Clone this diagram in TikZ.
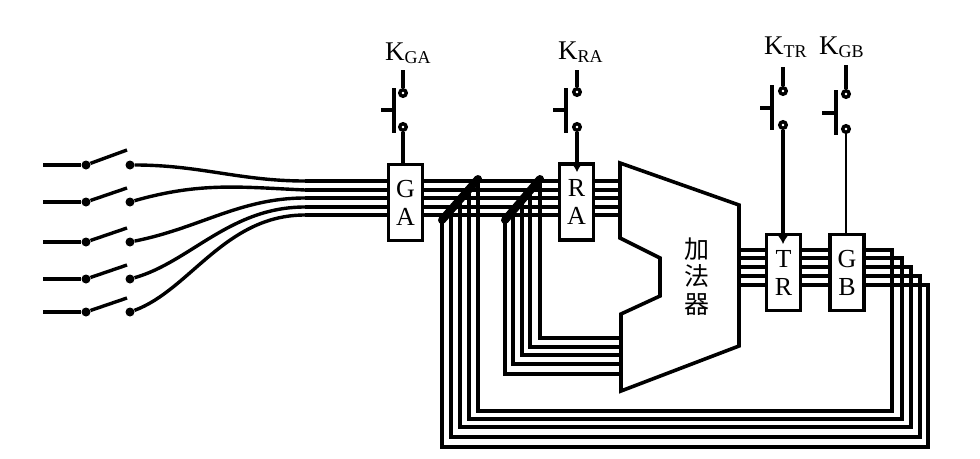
\documentclass[tikz,border=0pt]{standalone}
\usepackage{fontspec}
\setmainfont{Liberation Serif}
\newfontfamily\cjk{Noto Sans CJK SC}
\usetikzlibrary{arrows.meta}
\tikzset{
  wire/.style={line width=3.4pt,line cap=butt,line join=miter},
  thin wire/.style={line width=2.6pt,line cap=round},
  regbox/.style={draw,line width=3.6pt,fill=white,inner sep=0pt,minimum width=34pt,minimum height=76pt,align=center,font=\fontsize{26}{28}\selectfont},
  sdot/.style={circle,fill=black,inner sep=0pt,minimum size=9pt},
  kdot/.style={circle,draw,line width=3.4pt,fill=white,inner sep=0pt,minimum size=6.5pt},
  tap/.style={line width=8pt,line cap=round},
  keylabel/.style={inner sep=0pt,anchor=base west,font=\fontsize{27}{27}\selectfont},
}
\newcommand{\ksub}[1]{\raisebox{-3pt}{\fontsize{18}{18}\selectfont #1}}
\begin{document}
\begin{tikzpicture}[x=1pt,y=-1pt]
\useasboundingbox (0,0) rectangle (980,458);
\fill[white] (0,0) rectangle (980,458);
% registers
\node[regbox] (GA) at (405.5,202.5) {G\\A};
\node[regbox] (RA) at (576.5,202) {R\\A};
\node[regbox] (TR) at (783.5,272.5) {T\\R};
\node[regbox] (GB) at (847,272.5) {G\\B};
% adder
\draw[line width=3.6pt,line join=miter,fill=white] (620,163) coordinate (ADD) -- (739,205) -- (739,346) -- (621,391) -- (621,314) -- (660,296) -- (660,258) -- (620,238) -- cycle;
\node[inner sep=0pt,align=center,font=\cjk\fontsize{25}{27.5}\selectfont] (adder) at (697,276.5) {加\\法\\器};
% input switches
\foreach \n/\y/\ly in {1/165/150,2/202/188,3/242/228,4/279/265,5/312/298}{
  \coordinate (in\n) at (43,\y);
  \node[sdot] (a\n) at (86,\y) {};
  \node[sdot] (b\n) at (130,\y) {};
  \coordinate (lev\n) at (127,\ly);
  \draw[wire] (in\n) -- (a\n);
  \draw[wire] (a\n) -- (lev\n);
}
% wires to GA
\foreach \n/\y in {1/181,2/190,3/198,4/207,5/215}{
  \coordinate (g\n) at (305,\y);
  \coordinate (ga\n) at (GA.west |- 0,\y);
  \coordinate (gb\n) at (GA.east |- 0,\y);
  \coordinate (ra\n) at (RA.west |- 0,\y);
  \coordinate (rb\n) at (RA.east |- 0,\y);
  \coordinate (ad\n) at (620,\y);
  \draw[wire] (g\n) -- (ga\n);
  \draw[wire] (gb\n) -- (ra\n);
  \draw[wire] (rb\n) -- (ad\n);
}
\draw[wire] (b1) .. controls (200,165) and (240,181) .. (g1);
\draw[wire] (b2) .. controls (200,182) and (240,187) .. (g2);
\draw[wire] (b3) .. controls (200,228) and (240,198) .. (g3);
\draw[wire] (b4) .. controls (190,262) and (230,207) .. (g4);
\draw[wire] (b5) .. controls (190,290) and (225,215) .. (g5);
% TR / GB bus
\foreach \n/\y in {1/250,2/258,3/267,4/276,5/285}{
  \coordinate (t\n) at (739,\y);
  \draw[wire] (t\n) -- (TR.west |- 0,\y);
  \draw[wire] (TR.east |- 0,\y) -- (GB.west |- 0,\y);
}
% feedback to adder input (RA side)
\foreach \n/\x/\y/\top in {1/540/338/181,2/530/347/190,3/522/355/198,4/513/364/207,5/505/374/215}{
  \coordinate (v\n) at (\x,\top);
  \coordinate (e\n) at (621,\y);
  \draw[wire] (v\n) -- (\x,\y) -- (e\n);
}
% feedback from GB
\foreach \n/\ry/\rx/\bx/\by/\top in {1/250/892/478/411/181,2/258/902/469/419/190,3/267/911/460/427/198,4/276/920/451/437/207,5/285/928/442/447/215}{
  \coordinate (w\n) at (\bx,\top);
  \coordinate (o\n) at (GB.east |- 0,\ry);
  \draw[wire] (o\n) -- (\rx,\ry) -- (\rx,\by) -- (\bx,\by) -- (w\n);
}
% taps
\draw[tap] (w1) ++(0,-2) coordinate (tapa) -- (w5 |- 0,220) coordinate (tapb);
\draw[tap] (v1) ++(0,-2) coordinate (tapc) -- (v5 |- 0,220) coordinate (tapd);
% keys
\foreach \n/\x/\t/\u/\l/\bt/\bb/\bx/\hx/\hy in {
  GA/403/70/93/127/88/133/394/381/110,
  RA/577/70/92/127/88/133/566/553/110,
  TR/783/67/91/125/85/130/772/760/108,
  GB/846/65/94/129/90/135/836/822/113}{
  \coordinate (top\n) at (\x,\t);
  \node[kdot] (ku\n) at (\x,\u) {};
  \node[kdot] (kl\n) at (\x,\l) {};
  \draw[wire] (top\n) -- (ku\n);
  \draw[line width=3.6pt] (\bx,\bt) coordinate (bar\n) -- (\bx,\bb);
  \draw[wire] (\hx,\hy) coordinate (h\n) -- (\bx,\hy);
}
\draw[wire] (klGA) -- (klGA |- GA.north);
\draw[wire,-{Latex[length=9pt,width=12pt]}] (klRA) -- (klRA |- 0,172);
\draw[line width=4pt,-{Latex[length=10pt,width=13pt]}] (klTR) -- (klTR |- 0,244);
\draw[thin wire] (klGB) -- (klGB |- GB.north);
% labels
\node[keylabel] (lGA) at (385,60) {K\ksub{GA}};
\node[keylabel] (lRA) at (558,59) {K\ksub{RA}};
\node[keylabel] (lTR) at (764,54) {K\ksub{TR}};
\node[keylabel] (lGB) at (819,54) {K\ksub{GB}};
\end{tikzpicture}
\end{document}
